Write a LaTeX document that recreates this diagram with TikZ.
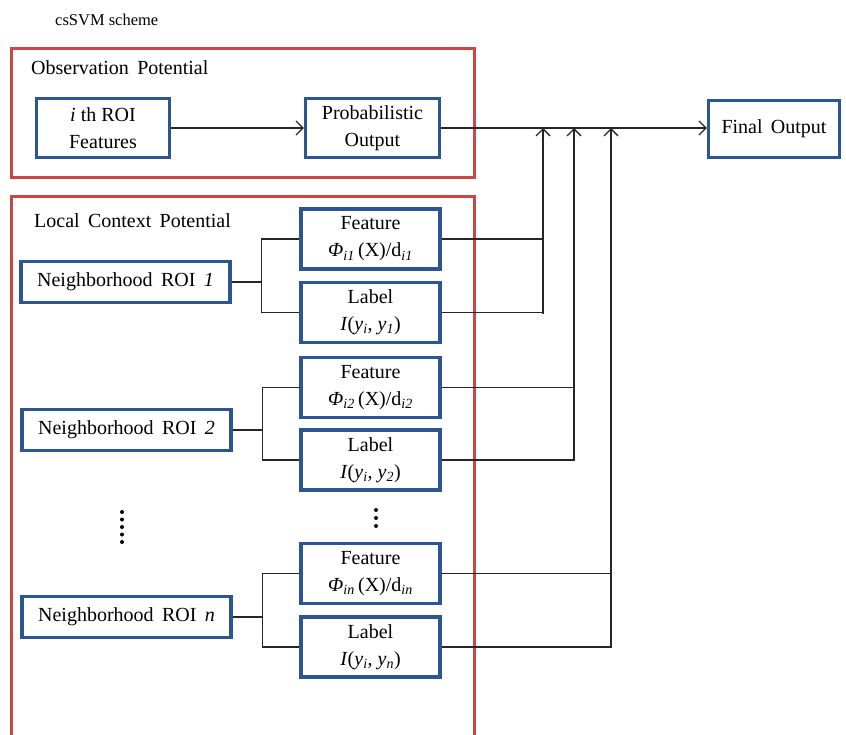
\documentclass[tikz,border=0pt]{standalone}
\usepackage{fontspec}
\setmainfont{Liberation Serif}
\usetikzlibrary{arrows.meta}
\definecolor{boxblue}{RGB}{44,86,146}
\definecolor{framered}{RGB}{204,70,70}
\tikzset{
  blk/.style={draw=boxblue, line width=3.2pt, fill=white, align=center, inner sep=0pt,
    font=\fontsize{20}{27}\selectfont},
  frm/.style={draw=framered, line width=3pt},
  con/.style={draw=black!85, line width=1.3pt},
  arr/.style={con, -{Straight Barb[length=7pt,width=14pt,line width=1.3pt]}},
  lbl/.style={anchor=west, inner sep=0pt, font=\fontsize{20}{24}\selectfont},
  dotn/.style={circle, fill=black, inner sep=0pt, minimum size=4pt}
}
\begin{document}
\begin{tikzpicture}[x=1pt,y=-1pt]
\useasboundingbox (0,0) rectangle (846,734);
% frames
\draw[frm] (11,48) rectangle (474,177);
\draw[frm] (11,745) -- (11,196) -- (474,196) -- (474,745);
% titles
\node[lbl, font=\fontsize{16.5}{20}\selectfont] (title) at (55,20) {csSVM scheme};
\node[lbl] (obs) at (31,68) {Observation\, Potential};
\node[lbl] (loc) at (34,221) {Local\, Context\, Potential};
% top row
\node[blk, minimum width=133pt, minimum height=59pt] (roi) at (103,128) {\textit{i} th ROI\\Features};
\node[blk, minimum width=134pt, minimum height=59pt] (prob) at (372.5,128) {Probabilistic\\Output};
\node[blk, minimum width=131pt, minimum height=57pt] (final) at (774,129) {Final\, Output};
% neighborhoods
\node[blk, minimum width=209pt, minimum height=41pt] (n1) at (125.5,282) {Neighborhood\, ROI\, \textit{1}};
\node[blk, minimum width=209pt, minimum height=41pt] (n2) at (126.5,430) {Neighborhood\, ROI\, \textit{2}};
\node[blk, minimum width=209pt, minimum height=41pt] (n3) at (126.5,617) {Neighborhood\, ROI\, \textit{n}};
% feature / label boxes
\node[blk, minimum width=139pt, minimum height=60pt] (f1) at (370.5,239) {Feature\\{\itshape Φ\textsubscript{i1}}\,(X)/d\textsubscript{\itshape i1}};
\node[blk, minimum width=139pt, minimum height=60pt] (l1) at (370.5,312.5) {Label\\\textit{I}(\textit{y}\textsubscript{\itshape i}, \textit{y}\textsubscript{\itshape 1})};
\node[blk, minimum width=139pt, minimum height=60pt] (f2) at (370.5,387.5) {Feature\\{\itshape Φ\textsubscript{i2}}\,(X)/d\textsubscript{\itshape i2}};
\node[blk, minimum width=139pt, minimum height=60pt] (l2) at (370.5,460) {Label\\\textit{I}(\textit{y}\textsubscript{\itshape i}, \textit{y}\textsubscript{\itshape 2})};
\node[blk, minimum width=139pt, minimum height=60pt] (f3) at (370.5,573.5) {Feature\\{\itshape Φ\textsubscript{in}}\,(X)/d\textsubscript{\itshape in}};
\node[blk, minimum width=139pt, minimum height=60pt] (l3) at (370.5,647) {Label\\\textit{I}(\textit{y}\textsubscript{\itshape i}, \textit{y}\textsubscript{\itshape n})};
% merge points
\coordinate (m1) at (543,128);
\coordinate (m2) at (574,128);
\coordinate (m3) at (611,128);
% top connectors
\draw[arr] (roi.east) -- (prob.west);
\draw[arr] (prob.east) -- (final.west |- prob.east);
% branches
\foreach \n/\f/\l in {n1/f1/l1, n2/f2/l2, n3/f3/l3}{
  \draw[con] (\n.east) -- ++(30,0) coordinate (b\n);
  \draw[con] (\f.west) -| (b\n) |- (\l.west);
}
% outputs
\draw[con] (f1.east) -| (543,313);
\draw[con] (l1.east) -| (543,313);
\draw[arr] (543,240) -- (m1);
\draw[con] (f2.east) -| (574,459);
\draw[con] (l2.east) -| (574,459);
\draw[arr] (574,388) -- (m2);
\draw[con] (f3.east) -| (611,646);
\draw[con] (l3.east) -| (611,646);
\draw[arr] (611,573) -- (m3);
% dots
\foreach \k in {0,...,4} \node[dotn] (ld\k) at (122,512+7.5*\k) {};
\foreach \k in {0,...,2} \node[dotn] (md\k) at (376,510+8*\k) {};
\end{tikzpicture}
\end{document}
